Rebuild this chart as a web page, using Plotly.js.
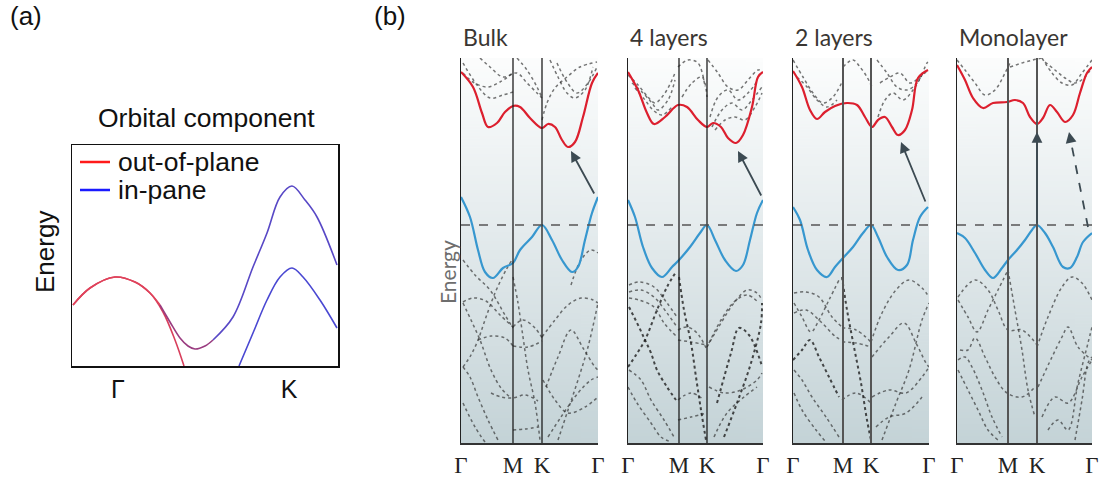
<!DOCTYPE html>
<html><head><meta charset="utf-8">
<script src="https://cdn.plot.ly/plotly-3.0.1.min.js"></script>
<style>html,body{margin:0;padding:0;background:#fff}#chart{width:1102px;height:478px}</style>
</head><body><div id="chart"></div>
<script>
// ---------------- Panel (a) data ----------------
const aOopX = [1,18,43,63,78,91,103,112];
const aOopY = [61,78,89,84,73,54,26,0];
const aMixX = [1,18,43,63,78,88,98,108,116,123,133,141,161,181,195,208,220,233,245,265];
const aMixY = [61,78,89,84,73,61,44,28,20,17,20,26,49,99,133,169,180,166,149,101];
const aInpX = [167,181,195,208,220,231,248,265];
const aInpY = [0,33,66,89,98,89,66,38];
const aTickVals = [46,217];
const aTickText = ['Γ','K'];
const legendLabels = ['out-of-plane','in-pane'];

// ---------------- Panel (b) data ----------------
const panelNames = ['Bulk','4 layers','2 layers','Monolayer'];
const kLabels = ['Γ','M','K','Γ'];
const bulkK = [0,52,81,137];
const fourK = [0,51,79,135];
const twoK = [0,50,78,136];
const monoK = [0,51,80,135];

const bulkCBx = [0,12,21,27,36,44,52,59,69,81,87,94,101,107,114,122,131,137];
const bulkCBe = [153,138,112,98,102,113,119,118,107,97,101,98,85,78,83,108,142,152];
const bulkVBx = [0,9,17,24,32,42,52,59,71,81,91,101,111,117,124,131,137];
const bulkVBe = [28,8,-25,-47,-53,-43,-38,-25,-12,0,-15,-35,-47,-42,-15,12,28];

const fourCBx = [0,10,19,26,37,50,59,70,79,85,93,100,108,115,124,130,135];
const fourCBe = [153,135,112,101,108,120,118,105,98,102,98,87,82,90,118,148,153];
const fourVBx = [0,7,15,24,34,44,51,62,72,79,87,97,108,115,122,129,135];
const fourVBe = [25,8,-22,-43,-52,-42,-35,-22,-8,0,-15,-35,-46,-40,-15,12,25];

const twoCBx = [0,9,17,24,32,42,54,64,72,79,85,92,99,105,112,119,125,135];
const twoCBe = [154,138,115,106,113,119,122,120,108,98,105,108,98,90,95,115,147,155];
const twoVBx = [0,7,15,24,34,42,50,60,70,78,85,94,105,114,120,127,135];
const twoVBe = [18,5,-25,-45,-52,-42,-33,-22,-8,0,-12,-32,-45,-40,-15,8,18];

const monoCBx = [0,8,16,26,36,50,58,66,73,80,86,93,100,108,116,123,130,135];
const monoCBe = [160,145,127,117,122,123,125,122,108,101,107,120,113,103,110,132,152,158];
const monoVBx = [0,8,18,28,36,45,51,60,68,75,80,88,96,106,113,120,126,135];
const monoVBe = [-8,-13,-28,-45,-53,-43,-35,-25,-15,-5,0,-8,-22,-42,-43,-32,-17,-8];

// other (dotted) bands, [k, E] pairs
const bulkBands = [
 [[2,162],[16,140],[29,127],[42,130],[52,133]],
 [[2,152],[12,143],[26,138],[39,143],[52,152]],
 [[19,167],[29,158],[42,148],[56,152],[66,142],[76,132],[81,127]],
 [[81,105],[86,122],[94,137],[106,148],[119,158],[136,163]],
 [[89,165],[97,148],[106,132],[114,127],[124,135],[132,158]],
 [[56,167],[66,155],[76,138],[81,127]],
 [[96,162],[106,143],[116,132],[127,142],[136,158]],
 [[2,-77],[12,-73],[25,-76],[39,-90],[52,-102]],
 [[2,-78],[10,-95],[19,-115],[30,-145],[40,-163],[50,-173]],
 [[2,-142],[10,-130],[17,-115],[24,-95],[34,-68],[45,-45],[51,-35]],
 [[2,-142],[9,-152],[17,-172],[27,-195],[37,-215]],
 [[17,-115],[30,-111],[44,-113],[52,-121]],
 [[2,-178],[14,-202],[24,-217]],
 [[30,-168],[40,-172],[52,-173],[64,-170],[77,-176]],
 [[52,-52],[57,-78],[62,-112],[67,-145],[74,-178],[79,-215]],
 [[52,-102],[62,-95],[74,-103],[81,-113]],
 [[52,-121],[67,-122],[81,-116]],
 [[52,-205],[64,-204],[77,-202]],
 [[81,-112],[94,-95],[107,-80],[120,-73],[132,-75],[137,-78]],
 [[85,-162],[97,-132],[110,-105],[122,-123],[134,-142],[137,-145]],
 [[97,-215],[107,-185],[117,-155],[127,-122],[137,-78]],
 [[82,-155],[94,-175],[107,-188],[124,-182],[137,-172]],
 [[87,-212],[100,-192],[117,-168],[130,-155],[137,-152]],
 [[2,-35],[14,-50],[29,-65],[44,-90],[52,-103]],
 [[110,-60],[120,-35],[130,-25],[137,-28]]
];
const bulkStrong = [];

const fourBands = [
 [[0,150],[10,140],[20,128],[27,122],[37,132],[47,152]],
 [[4,142],[14,133],[24,122],[30,115],[40,125],[47,145]],
 [[7,137],[17,125],[25,115],[34,110],[44,118]],
 [[50,158],[60,165],[70,162],[77,138]],
 [[54,128],[64,142],[74,148],[79,128]],
 [[80,165],[90,152],[100,138],[110,135],[120,145],[130,155],[135,155]],
 [[82,108],[90,128],[100,135],[110,125],[120,132],[130,145]],
 [[84,98],[94,115],[104,122],[114,115],[124,125],[134,138]],
 [[87,95],[97,105],[107,108],[117,105],[127,118],[134,132]],
 [[1,-60],[11,-57],[26,-62],[39,-78],[49,-92]],
 [[1,-67],[13,-65],[26,-72],[39,-88],[49,-102]],
 [[1,-73],[11,-75],[26,-82],[36,-98],[49,-112]],
 [[1,-145],[13,-155],[23,-175],[36,-195],[46,-212]],
 [[0,-162],[9,-178],[23,-198],[33,-212],[43,-217]],
 [[50,-105],[59,-102],[69,-108],[79,-125]],
 [[50,-115],[63,-117],[79,-120]],
 [[50,-175],[63,-168],[76,-175]],
 [[50,-195],[63,-192],[79,-188]],
 [[79,-122],[93,-98],[106,-78],[119,-65],[129,-68],[134,-75]],
 [[81,-118],[93,-95],[106,-77],[119,-70],[131,-78]],
 [[81,-162],[96,-168],[113,-165],[129,-155],[134,-148]],
 [[86,-212],[99,-188],[116,-172],[129,-162]]
];
const fourStrong = [
 [[1,-82],[11,-102],[17,-115],[23,-128],[29,-145],[39,-162],[48,-175]],
 [[0,-142],[8,-130],[17,-115],[29,-85],[39,-62],[48,-47]],
 [[51,-52],[56,-85],[63,-118],[68,-152],[73,-185],[78,-215]],
 [[96,-212],[109,-178],[123,-138],[133,-98],[134,-78]],
 [[89,-178],[103,-128],[111,-103],[121,-110],[133,-138],[134,-142]]
];

const twoBands = [
 [[0,165],[10,148],[20,132],[30,122],[40,128],[50,145]],
 [[4,148],[14,138],[24,125],[34,118],[44,125]],
 [[50,158],[60,165],[67,158],[74,148],[79,138]],
 [[84,165],[94,152],[104,138],[114,135],[124,142],[134,162],[135,163]],
 [[85,108],[92,125],[100,132],[110,125],[120,135],[130,152]],
 [[87,142],[97,148],[107,152],[117,142],[127,148],[135,155]],
 [[1,-78],[9,-92],[18,-107],[26,-95],[36,-75],[46,-55]],
 [[1,-68],[13,-67],[26,-72],[39,-92],[49,-102]],
 [[1,-88],[13,-85],[29,-98],[43,-112],[49,-115]],
 [[1,-145],[9,-155],[19,-172],[33,-192],[46,-212]],
 [[1,-168],[9,-185],[23,-205],[33,-217]],
 [[49,-103],[63,-105],[78,-117]],
 [[49,-117],[63,-118],[78,-122]],
 [[49,-175],[63,-168],[78,-178]],
 [[78,-117],[89,-88],[103,-65],[116,-55],[129,-63],[136,-72]],
 [[79,-132],[96,-112],[111,-98],[123,-118],[133,-138],[136,-142]],
 [[89,-215],[103,-178],[116,-145],[129,-95],[136,-78]],
 [[79,-172],[96,-165],[113,-168],[129,-152],[136,-142]],
 [[83,-202],[96,-192],[113,-188],[129,-172]]
];
const twoStrong = [
 [[0,-135],[9,-125],[17,-115],[26,-132],[36,-152],[46,-172]],
 [[49,-52],[54,-85],[61,-122],[68,-158],[74,-195],[78,-215]]
];

const monoBands = [
 [[0,165],[8,155],[18,142],[28,130],[38,135],[48,152],[53,162]],
 [[53,158],[65,162],[76,165],[85,167]],
 [[85,167],[95,152],[105,142],[115,140],[125,152],[135,165]],
 [[88,163],[98,155],[108,147],[118,142],[128,148],[135,158]],
 [[1,-72],[18,-55],[31,-65],[41,-85],[51,-105],[65,-105],[80,-120]],
 [[1,-75],[11,-92],[20,-107],[31,-85],[41,-65],[51,-45]],
 [[3,-125],[11,-125],[18,-113],[28,-132],[38,-152],[50,-168],[65,-172],[78,-162]],
 [[1,-135],[8,-132],[15,-142],[25,-165],[35,-192],[45,-212]],
 [[1,-145],[11,-165],[21,-185],[31,-205],[41,-215]],
 [[51,-45],[58,-85],[65,-125],[71,-165],[78,-192]],
 [[80,-122],[91,-92],[105,-62],[115,-52],[125,-58],[135,-75]],
 [[81,-162],[95,-132],[105,-112],[111,-102],[121,-122],[135,-135]],
 [[85,-192],[98,-172],[111,-178],[125,-152],[135,-135]],
 [[91,-205],[101,-195],[111,-205],[121,-158],[131,-118],[135,-102]],
 [[118,-215],[125,-175],[131,-138],[135,-132]]
];
const monoStrong = [];

// arrows: [tailK, tailE, headK, headE]
const bulkArrow = [134,30,110,74];
const fourArrow = [134,28,110,74];
const twoArrow = [133,22,108,83];
const monoArrowDirect = [80,0,80,93];
const monoArrowIndirect = [131,-2,112,93];

// ---------------- layout helpers ----------------
const W = 1102, H = 478;
const px = v => v / W;
const py = v => 1 - v / H;

function gradURL(){
  const c = document.createElement('canvas'); c.width = 4; c.height = 256;
  const g = c.getContext('2d');
  const gr = g.createLinearGradient(0,0,0,256);
  gr.addColorStop(0,'#fcfdfd'); gr.addColorStop(0.45,'#e4ebed'); gr.addColorStop(1,'#c4d3d7');
  g.fillStyle = gr; g.fillRect(0,0,4,256);
  return c.toDataURL();
}
const grad = gradURL();

const traces = [];
const shapes = [];
const annotations = [];
const images = [];
const layout = {
  width: W, height: H, margin: {l:0,r:0,t:0,b:0},
  paper_bgcolor: '#ffffff', plot_bgcolor: 'rgba(0,0,0,0)',
  showlegend: false, font: {family: 'Liberation Sans, Arial, sans-serif', color: '#111'}
};

// ---------------- Panel (a) ----------------
layout.xaxis = {domain:[px(72),px(338)], range:[0,266], showgrid:false, zeroline:false,
  showline:true, mirror:true, linecolor:'#111', linewidth:1.5, ticks:'',
  tickvals:aTickVals, ticktext:aTickText, tickfont:{size:25, color:'#111'}, fixedrange:true};
layout.yaxis = {domain:[py(366),py(145)], range:[0,221], showgrid:false, zeroline:false,
  showline:true, mirror:true, linecolor:'#111', linewidth:1.5, showticklabels:false, ticks:'', fixedrange:true};

traces.push({x:aOopX, y:aOopY, xaxis:'x', yaxis:'y', mode:'lines', line:{color:'#d83f5c', width:1.6, shape:'spline'}, hoverinfo:'skip'});
const segs = [[0,6,'#e0425a'],[5,12,'#9a3c80'],[11,20,'#5848c6']];
segs.forEach(s => traces.push({x:aMixX.slice(s[0],s[1]), y:aMixY.slice(s[0],s[1]), xaxis:'x', yaxis:'y', mode:'lines',
  line:{color:s[2], width:1.6, shape:'spline'}, hoverinfo:'skip'}));
traces.push({x:aInpX, y:aInpY, xaxis:'x', yaxis:'y', mode:'lines', line:{color:'#4a48d2', width:1.6, shape:'spline'}, hoverinfo:'skip'});

const legColors = ['#ff1a1a','#1a1aff'];
legendLabels.forEach((t,i) => {
  const yy = 162 + i*28;
  shapes.push({type:'line', xref:'paper', yref:'paper', x0:px(80), x1:px(110), y0:py(yy), y1:py(yy), line:{color:legColors[i], width:2.5}});
  annotations.push({text:t, xref:'paper', yref:'paper', x:px(116), y:py(yy), xanchor:'left', yanchor:'middle', showarrow:false, font:{size:26.5, color:'#111'}});
});
annotations.push({text:'Orbital component', xref:'paper', yref:'paper', x:px(206), y:py(118), xanchor:'center', yanchor:'middle', showarrow:false, font:{size:26.5, color:'#111'}});
annotations.push({text:'Energy', xref:'paper', yref:'paper', x:px(45), y:py(252), textangle:-90, xanchor:'center', yanchor:'middle', showarrow:false, font:{size:26, color:'#111'}});
annotations.push({text:'(a)', xref:'paper', yref:'paper', x:px(26), y:py(16), xanchor:'center', yanchor:'middle', showarrow:false, font:{size:26, color:'#111'}});
annotations.push({text:'(b)', xref:'paper', yref:'paper', x:px(390), y:py(16), xanchor:'center', yanchor:'middle', showarrow:false, font:{size:26, color:'#111'}});
annotations.push({text:'Energy', xref:'paper', yref:'paper', x:px(447), y:py(272), textangle:-90, xanchor:'center', yanchor:'middle', showarrow:false, font:{family:'Lato, Open Sans, sans-serif', size:21, color:'#6e6e6e'}});

// ---------------- Panel (b) ----------------
const lefts = [461,628,793,957];
const rights = [598,763,929,1092];
const kposAll = [bulkK, fourK, twoK, monoK];
const cbAll = [[bulkCBx,bulkCBe],[fourCBx,fourCBe],[twoCBx,twoCBe],[monoCBx,monoCBe]];
const vbAll = [[bulkVBx,bulkVBe],[fourVBx,fourVBe],[twoVBx,twoVBe],[monoVBx,monoVBe]];
const bandsAll = [bulkBands, fourBands, twoBands, monoBands];
const strongAll = [bulkStrong, fourStrong, twoStrong, monoStrong];
const vlineStyle = [['#1e1e1e',1.3],['#1e1e1e',1.3],['#555',2],['#555',2]];
const arrowsSolid = [[bulkArrow],[fourArrow],[twoArrow],[monoArrowDirect]];
const arrowCol = '#3c4a52';

for (let i=0;i<4;i++){
  const n = i+2, xa = 'x'+n, ya = 'y'+n;
  const wdt = rights[i]-lefts[i];
  const kp = kposAll[i];
  layout['xaxis'+n] = {domain:[px(lefts[i]),px(rights[i])], range:[0,wdt], showgrid:false, zeroline:false,
    showline:true, linecolor:'#333', linewidth:2, ticks:'', tickvals:kp, ticktext:kLabels,
    tickfont:{family:'Liberation Serif, Times New Roman, serif', size:23, color:'#222'}, fixedrange:true, anchor:ya};
  layout['yaxis'+n] = {domain:[py(443),py(58)], range:[-218,167], showgrid:false, zeroline:false,
    showline:true, linecolor:'#222', linewidth:1.5, showticklabels:false, ticks:'', fixedrange:true, anchor:xa};
  images.push({source:grad, xref:'paper', yref:'paper', x:px(lefts[i]), y:py(58), sizex:wdt/W, sizey:385/H,
    sizing:'stretch', xanchor:'left', yanchor:'top', layer:'below'});

  bandsAll[i].forEach(b => traces.push({x:b.map(p=>p[0]), y:b.map(p=>p[1]), xaxis:xa, yaxis:ya, mode:'lines',
    line:{color:'rgba(45,45,45,0.65)', width:1.5, dash:'dot', shape:'spline'}, hoverinfo:'skip'}));
  strongAll[i].forEach(b => traces.push({x:b.map(p=>p[0]), y:b.map(p=>p[1]), xaxis:xa, yaxis:ya, mode:'lines',
    line:{color:'rgba(30,30,30,0.8)', width:2.0, dash:'dot', shape:'spline'}, hoverinfo:'skip'}));
  traces.push({x:cbAll[i][0], y:cbAll[i][1], xaxis:xa, yaxis:ya, mode:'lines', line:{color:'#dc1f2e', width:2.2, shape:'spline'}, hoverinfo:'skip'});
  traces.push({x:vbAll[i][0], y:vbAll[i][1], xaxis:xa, yaxis:ya, mode:'lines', line:{color:'#3797cf', width:2.2, shape:'spline'}, hoverinfo:'skip'});

  [kp[1],kp[2]].forEach(k => shapes.push({type:'line', xref:xa, yref:ya+' domain', x0:k, x1:k, y0:0, y1:1,
    line:{color:vlineStyle[i][0], width:vlineStyle[i][1]}, layer:'above'}));
  shapes.push({type:'line', xref:xa+' domain', yref:ya, x0:0, x1:1, y0:0, y1:0, line:{color:'#555', width:1.6, dash:'dash'}});

  annotations.push({text:panelNames[i], xref:'paper', yref:'paper', x:px(lefts[i]), y:py(37), xanchor:'left', yanchor:'middle',
    showarrow:false, font:{family:'Lato, Open Sans, sans-serif', size:23, color:'#3a3632'}});

  arrowsSolid[i].forEach(a => annotations.push({text:'', xref:xa, yref:ya, axref:xa, ayref:ya, x:a[2], y:a[3], ax:a[0], ay:a[1],
    showarrow:true, arrowhead:2, arrowsize:1.2, arrowwidth:1.8, arrowcolor:arrowCol}));
}
// indirect (dashed) arrow in monolayer
{
  const a = monoArrowIndirect;
  shapes.push({type:'line', xref:'x5', yref:'y5', x0:a[0], y0:a[1], x1:a[2]+0.1*(a[0]-a[2]), y1:a[3]+0.1*(a[1]-a[3]),
    line:{color:arrowCol, width:1.8, dash:'dash'}});
  annotations.push({text:'', xref:'x5', yref:'y5', axref:'x5', ayref:'y5', x:a[2], y:a[3],
    ax:a[2]+0.12*(a[0]-a[2]), ay:a[3]+0.12*(a[1]-a[3]), showarrow:true, arrowhead:2, arrowsize:1.2, arrowwidth:1.8, arrowcolor:arrowCol});
}

layout.shapes = shapes;
layout.annotations = annotations;
layout.images = images;
Plotly.newPlot('chart', traces, layout, {staticPlot:true, displayModeBar:false});
</script></body></html>
